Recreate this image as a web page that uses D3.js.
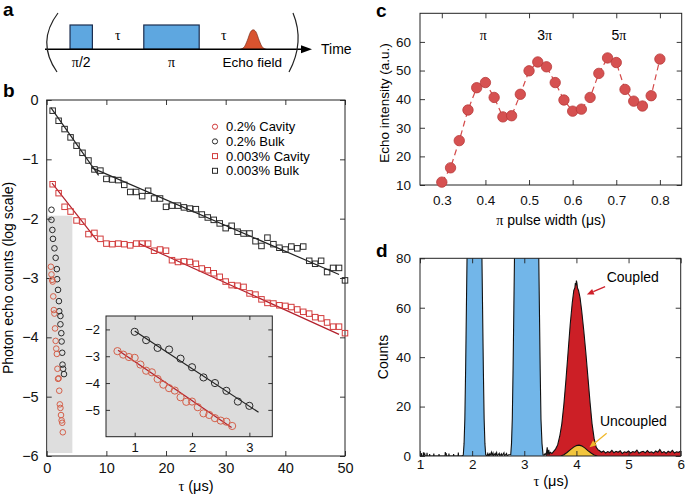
<!DOCTYPE html>
<html>
<head>
<meta charset="utf-8">
<script src="https://cdn.jsdelivr.net/npm/d3@7"></script>
<style>
  body { margin: 0; background: #fff; }
  svg { display: block; font-family: "Liberation Sans", Arial, Helvetica, sans-serif; }
</style>
</head>
<body>
<svg id="fig" width="685" height="498"></svg>
<script>
// ---------- panel a: pulse sequence (schematic time units) ----------
var seqPulses = [{ label: "π/2", t0: 0.375, t1: 0.71 }, { label: "π", t0: 1.48, t1: 2.31 }];
var seqDelays = [1.09, 2.68];
var echoCentre = 3.12;
var echoShape = [[-0.2, 0], [-0.14, 0.08], [-0.09, 0.36], [-0.04, 0.72], [0, 0.8], [0.04, 0.72], [0.09, 0.36], [0.14, 0.08], [0.2, 0]];

// ---------- panel b: echo decay, log scale ----------
var tau003 = [1,2,3,4,5,6,7,8,9,10,11,12,13,14,15,16,17,18,19,20,21,22,23,24,25,
              26,27,28,29,30,31,32,33,34,35,36,37,38,39,40,41,42,43,44,45,46,47,48,49,50];
var bulk003 = [-0.18,-0.35,-0.49,-0.63,-0.77,-0.89,-1.02,-1.17,-1.19,-1.33,-1.34,-1.35,-1.43,-1.55,-1.55,
               -1.62,-1.53,-1.66,-1.66,-1.80,-1.78,-1.78,-1.81,-1.83,-1.84,-1.93,-1.98,-2.02,-2.08,-2.16,
               -2.12,-2.22,-2.25,-2.25,-2.38,-2.46,-2.32,-2.43,-2.49,-2.52,-2.47,-2.50,-2.47,-2.71,-2.76,
               -2.71,-2.90,-2.83,-2.83,-3.04];
var cavity003 = [-1.42,-1.57,-1.80,-1.88,-2.03,-2.05,-2.26,-2.24,-2.34,-2.42,-2.43,-2.42,-2.43,-2.45,-2.42,
                 -2.42,-2.42,-2.54,-2.52,-2.54,-2.70,-2.73,-2.72,-2.73,-2.76,-2.84,-2.87,-2.92,-2.98,-3.06,
                 -3.12,-3.13,-3.15,-3.26,-3.28,-3.36,-3.42,-3.43,-3.46,-3.47,-3.49,-3.53,-3.57,-3.60,-3.66,
                 -3.68,-3.75,-3.82,-3.82,-3.93];
var bulk003Fits = [[[0.7, -0.13], [8.7, -1.27]], [[7.5, -1.14], [49, -2.94]]];
var cavity003Fits = [[[0.9, -1.40], [8.4, -2.36]], [[15.5, -2.42], [49, -3.95]]];

var tauCav02 = [0.7,0.8,0.9,1.0,1.1,1.2,1.3,1.4,1.5,1.6,1.7,1.8,1.9,2.0,2.1,2.2,2.3,2.4,2.5,2.6,2.7];
var cavity02 = [-2.81,-2.94,-3.03,-3.06,-3.31,-3.54,-3.60,-3.85,-4.06,-4.19,-4.28,-4.53,-4.70,-4.69,
                -4.90,-5.13,-5.19,-5.31,-5.40,-5.44,-5.60];
var tauBulk02 = [1.0,1.2,1.4,1.6,1.8,2.0,2.2,2.4,2.6,2.8,3.0];
var bulk02 = [-2.09,-2.40,-2.69,-2.75,-3.09,-3.41,-3.79,-4.00,-4.29,-4.69,-4.85];
var tauBulk02Strip = [0.8,0.8,0.95,1.05,1.3,1.5,1.7,1.75,1.9,2.05,2.1,2.3,2.3,2.45,2.5,2.6,2.65,2.75,2.9];
var bulk02Strip = [-1.85,-2.02,-2.19,-2.34,-2.50,-2.66,-2.85,-3.02,-3.20,-3.39,-3.56,-3.64,-3.78,-3.93,
                   -4.07,-4.26,-4.46,-4.53,-4.62];
var cavity02Fit = [[0.71, -2.78], [2.69, -5.66]];
var bulk02Fit = [[1.0, -2.06], [3.16, -5.09]];
var stripBox = [0.15, 4.3, -1.95, -5.95];
var legendLabels = ["0.2% Cavity", "0.2% Bulk", "0.003% Cavity", "0.003% Bulk"];

// ---------- panel c: echo vs pi pulse width ----------
var pulseWidth = [0.30,0.32,0.34,0.36,0.38,0.40,0.42,0.44,0.46,0.48,0.50,0.52,0.54,
                  0.56,0.58,0.60,0.62,0.64,0.66,0.68,0.70,0.72,0.74,0.76,0.78,0.80];
var echoIntensity = [11,16,25.5,36.2,44,45.8,40.6,33.8,34.2,41.7,49.9,53,51.3,
                     45.8,39.7,35.8,36.5,40.6,49,54.4,52.8,43.4,39.3,37.6,41.2,54];
var piMarks = [{ n: "", x: 0.395 }, { n: "3", x: 0.536 }, { n: "5", x: 0.706 }];

// ---------- panel d: photon counts trace ----------
var countsTrace = [
  [1.00,0],[1.02,0],[1.025,1.2],[1.03,0],[1.06,0],[1.065,1.5],[1.07,0.2],[1.09,1.0],[1.10,0],[1.13,0],
  [1.135,1.3],[1.14,0],[1.18,0],[1.185,0.8],[1.19,0],[1.26,0],[1.265,1.0],[1.27,0],[1.36,0],[1.365,0.8],
  [1.37,0],[1.48,0],[1.485,1.6],[1.49,0.3],[1.50,1.2],[1.51,0],[1.55,0],[1.555,1.0],[1.56,0],[1.64,0],
  [1.645,0.8],[1.65,0],[1.73,0],[1.735,1.4],[1.74,0],[1.80,0],[1.83,0.3],
  [1.845,5],[1.86,15],[1.875,35],[1.89,60],[1.905,85],[1.92,110],[2.17,110],[2.185,85],[2.20,60],
  [2.215,35],[2.23,15],[2.245,5],[2.26,0.5],
  [2.28,0],[2.30,1.0],[2.31,0],[2.33,0.8],[2.34,0],[2.37,1.5],[2.38,0.2],[2.40,1.2],[2.41,0],[2.44,1.0],
  [2.45,0.3],[2.47,1.4],[2.48,0],[2.52,1.1],[2.53,0],[2.56,0.9],[2.57,0],[2.61,1.3],[2.62,0],[2.66,1.0],
  [2.67,0],[2.70,0.5],[2.74,0.5],
  [2.755,5],[2.77,15],[2.785,35],[2.80,60],[2.815,85],[2.83,110],[3.26,110],[3.275,85],[3.29,60],
  [3.305,35],[3.32,15],[3.34,5],[3.36,0.5],
  [3.38,0.3],[3.40,1.0],[3.42,0.3],[3.44,3.5],[3.45,0.5],[3.47,2.5],[3.48,0.8],[3.50,1.5],[3.53,1.0],
  [3.56,1.8],[3.60,2.8],[3.64,4.5],[3.68,8],[3.72,13],[3.76,21],[3.80,31],[3.84,42],[3.88,53],[3.92,62],
  [3.95,67],[3.97,68],[3.98,70],[3.99,69],[4.00,71],[4.01,70],[4.02,68],[4.04,67],[4.07,64],[4.10,59],
  [4.14,51],[4.18,42],[4.22,32],[4.26,22],[4.30,13],[4.34,7],[4.38,3.5],[4.42,2.4],
  [4.44,2.2],[4.48,1.5],[4.52,2.0],[4.56,1.2],[4.60,1.8],[4.64,1.4],[4.68,2.3],[4.72,1.3],[4.76,1.9],
  [4.80,1.5],[4.84,2.1],[4.88,1.0],[4.92,1.7],[4.96,1.4],[5.00,2.0],[5.04,1.2],[5.08,1.8],[5.12,1.5],
  [5.16,2.4],[5.20,1.1],[5.24,1.6],[5.28,1.9],[5.32,1.3],[5.36,2.2],[5.40,1.4],[5.44,1.7],[5.48,1.2],
  [5.52,2.0],[5.56,1.5],[5.60,2.6],[5.64,1.3],[5.68,1.8],[5.72,1.1],[5.76,1.9],[5.80,1.4],[5.84,2.3],
  [5.88,1.2],[5.92,1.7],[5.96,1.5],[6.00,2.0]
];
var uncoupledTrace = [[3.70,0],[3.76,0.5],[3.82,1.4],[3.88,2.5],[3.94,3.5],[4.00,4.2],[4.05,4.4],
                      [4.10,4.1],[4.16,3.3],[4.22,2.2],[4.28,1.2],[4.34,0.4],[4.40,0]];
var pulseWindows = [[1.83, 2.26], [2.74, 3.36]];
var echoStart = 3.42;

var serif = "'Liberation Serif','DejaVu Serif',serif";
var svg = d3.select("#fig");
svg.append("rect").attr("width", 685).attr("height", 498).attr("fill", "#fff");

function panelLabel(txt, x, y) {
  svg.append("text").attr("x", x).attr("y", y).attr("font-size", 19)
    .attr("font-weight", "bold").text(txt);
}

// box with inward ticks on all four sides
function frame(g, x, y, xt, yt, o) {
  var xr = x.range(), yr = y.range();
  var parts = [
    [d3.axisBottom(x).tickValues(xt).tickPadding(o.padX).tickFormat(o.fx), [0, yr[0]]],
    [d3.axisTop(x).tickValues(xt).tickFormat(""), [0, yr[1]]],
    [d3.axisLeft(y).tickValues(yt).tickPadding(o.padY).tickFormat(o.fy), [xr[0], 0]],
    [d3.axisRight(y).tickValues(yt).tickFormat(""), [xr[1], 0]]
  ];
  parts.forEach(function (p) {
    var a = g.append("g").attr("transform", "translate(" + p[1] + ")")
      .call(p[0].tickSize(-o.tick).tickSizeOuter(0));
    a.attr("font-family", null).attr("font-size", o.font);
    a.select(".domain").remove();
    a.selectAll(".tick line").attr("stroke", "#222").attr("stroke-width", 0.9);
    a.selectAll(".tick text").attr("fill", "#111");
  });
  g.append("rect").attr("x", xr[0]).attr("y", yr[1])
    .attr("width", xr[1] - xr[0]).attr("height", yr[0] - yr[1])
    .attr("fill", "none").attr("stroke", "#222").attr("stroke-width", 1);
}

function tauLabel(g, x, y, size) {
  var t = g.append("text").attr("x", x).attr("y", y).attr("text-anchor", "middle").attr("font-size", size);
  t.append("tspan").attr("font-family", serif).text("τ");
  t.append("tspan").text(" (μs)");
}

// ================= panel a =================
var ga = svg.append("g");
var xa = d3.scaleLinear().domain([0, 4]).range([45, 312]);
var ya = d3.scaleLinear().domain([0, 1]).range([49.3, 25]);

ga.selectAll("rect.pulse").data(seqPulses).enter().append("rect")
  .attr("x", function (d) { return xa(d.t0); })
  .attr("y", ya(1))
  .attr("width", function (d) { return xa(d.t1) - xa(d.t0); })
  .attr("height", ya(0) - ya(1))
  .attr("fill", "#5ea7e0").attr("stroke", "#1b2d4f").attr("stroke-width", 1.2);

ga.append("path").datum(echoShape)
  .attr("d", d3.line().x(function (d) { return xa(echoCentre + d[0]); })
    .y(function (d) { return ya(d[1]); }).curve(d3.curveMonotoneX))
  .attr("fill", "#d8532f").attr("stroke", "#6a2412").attr("stroke-width", 0.6);

ga.append("line").attr("x1", xa(0)).attr("x2", xa(3.88)).attr("y1", ya(0)).attr("y2", ya(0))
  .attr("stroke", "#000").attr("stroke-width", 1.6);
ga.append("path").attr("d", "M" + xa(4) + "," + ya(0) + "l-11,-4v8z").attr("fill", "#000");
ga.append("text").attr("x", 321).attr("y", 54).attr("font-size", 14).text("Time");

ga.append("path").attr("d", "M58,13Q36,42 57,72").attr("fill", "none").attr("stroke", "#222").attr("stroke-width", 1.2);
ga.append("path").attr("d", "M293,13Q305,42 289,72").attr("fill", "none").attr("stroke", "#222").attr("stroke-width", 1.2);

ga.selectAll("text.plab").data(seqPulses).enter().append("text")
  .attr("x", function (d) { return xa((d.t0 + d.t1) / 2); }).attr("y", 67)
  .attr("text-anchor", "middle").attr("font-size", 14)
  .each(function (d) {
    var t = d3.select(this);
    t.append("tspan").attr("font-family", serif).text("π");
    if (d.label.length > 1) t.append("tspan").text(d.label.slice(1));
  });
ga.selectAll("text.tau").data(seqDelays).enter().append("text")
  .attr("x", function (d) { return xa(d); }).attr("y", 40)
  .attr("text-anchor", "middle").attr("font-size", 14).attr("font-family", serif).text("τ");
ga.append("text").attr("x", xa(echoCentre) - 1).attr("y", 67).attr("text-anchor", "middle")
  .attr("font-size", 13.5).text("Echo field");

// ================= panel b =================
var gb = svg.append("g");
var xb = d3.scaleLinear().domain([0, 50]).range([46.7, 345]);
var yb = d3.scaleLinear().domain([-6, 0]).range([456, 100]);

gb.append("rect").attr("x", xb(stripBox[0])).attr("y", yb(stripBox[2]))
  .attr("width", xb(stripBox[1]) - xb(stripBox[0])).attr("height", yb(stripBox[3]) - yb(stripBox[2]))
  .attr("fill", "#dedede");

frame(gb, xb, yb, [0, 10, 20, 30, 40, 50], [-6, -5, -4, -3, -2, -1, 0],
  { tick: 5, padX: 7, padY: 8, font: 14.5, fx: d3.format("d"), fy: d3.format("d") });

var lineB = d3.line().x(function (d) { return xb(d[0]); }).y(function (d) { return yb(d[1]); });
bulk003Fits.forEach(function (f) {
  gb.append("path").attr("d", lineB(f)).attr("stroke", "#222").attr("stroke-width", 1.2).attr("fill", "none");
});
cavity003Fits.forEach(function (f) {
  gb.append("path").attr("d", lineB(f)).attr("stroke", "#b3202c").attr("stroke-width", 1.2).attr("fill", "none");
});

function squares(g, xs, ys, x, y, colour, size) {
  g.selectAll(null).data(xs).enter().append("rect")
    .attr("x", function (d) { return x(d) - size / 2; })
    .attr("y", function (d, i) { return y(ys[i]) - size / 2; })
    .attr("width", size).attr("height", size)
    .attr("fill", "none").attr("stroke", colour).attr("stroke-width", 1);
}
function rings(g, xs, ys, x, y, colour, r) {
  g.selectAll(null).data(xs).enter().append("circle")
    .attr("cx", function (d) { return x(d); })
    .attr("cy", function (d, i) { return y(ys[i]); })
    .attr("r", r).attr("fill", "none").attr("stroke", colour).attr("stroke-width", 1);
}

squares(gb, tau003, bulk003, xb, yb, "#2a2a2a", 5.5);
squares(gb, tau003, cavity003, xb, yb, "#d23c3c", 5.5);
rings(gb, tauBulk02Strip, bulk02Strip, xb, yb, "#2a2a2a", 2.8);
rings(gb, tauCav02, cavity02, xb, yb, "#d4604a", 2.8);

// legend
var leg = gb.append("g");
legendLabels.forEach(function (lab, i) {
  var cy = 126.7 + i * 14.7;
  var col = (i % 2 === 0) ? "#d23c3c" : "#2a2a2a";
  if (i < 2) {
    leg.append("circle").attr("cx", 215).attr("cy", cy).attr("r", 2.6)
      .attr("fill", "none").attr("stroke", col).attr("stroke-width", 1);
  } else {
    leg.append("rect").attr("x", 212.5).attr("y", cy - 2.5).attr("width", 5).attr("height", 5)
      .attr("fill", "none").attr("stroke", col).attr("stroke-width", 1);
  }
  leg.append("text").attr("x", 226).attr("y", cy + 4.5).attr("font-size", 13).text(lab);
});

// inset
var gi = gb.append("g");
var xi = d3.scaleLinear().domain([0.5, 3.4]).range([106, 272.3]);
var yi = d3.scaleLinear().domain([-6, -1.5]).range([436.7, 316]);
gi.append("rect").attr("x", xi(0.5)).attr("y", yi(-1.5))
  .attr("width", xi(3.4) - xi(0.5)).attr("height", yi(-6) - yi(-1.5)).attr("fill", "#dcdcdc");
frame(gi, xi, yi, [1, 2, 3], [-5, -4, -3, -2],
  { tick: 4, padX: 6, padY: 6, font: 13, fx: d3.format("d"), fy: d3.format("d") });
var lineI = d3.line().x(function (d) { return xi(d[0]); }).y(function (d) { return yi(d[1]); });
gi.append("path").attr("d", lineI(bulk02Fit)).attr("stroke", "#222").attr("stroke-width", 1.2).attr("fill", "none");
gi.append("path").attr("d", lineI(cavity02Fit)).attr("stroke", "#b3202c").attr("stroke-width", 1.2).attr("fill", "none");
rings(gi, tauBulk02, bulk02, xi, yi, "#2a2a2a", 3.6);
rings(gi, tauCav02, cavity02, xi, yi, "#d4604a", 3.6);

tauLabel(gb, 196, 491, 14.5);
gb.append("text").attr("transform", "rotate(-90)").attr("x", -278).attr("y", 13)
  .attr("text-anchor", "middle").attr("font-size", 14).text("Photon echo counts (log scale)");

// ================= panel c =================
var gc = svg.append("g");
var xc = d3.scaleLinear().domain([0.25, 0.85]).range([420, 681.7]);
var yc = d3.scaleLinear().domain([10, 70]).range([185, 13.3]);
frame(gc, xc, yc, [0.3, 0.4, 0.5, 0.6, 0.7, 0.8], [10, 20, 30, 40, 50, 60],
  { tick: 5, padX: 10, padY: 9, font: 13.5, fx: d3.format(".1f"), fy: d3.format("d") });

gc.append("path").datum(pulseWidth)
  .attr("d", d3.line().x(function (d) { return xc(d); }).y(function (d, i) { return yc(echoIntensity[i]); }))
  .attr("fill", "none").attr("stroke", "#d44a4a").attr("stroke-width", 1.2).attr("stroke-dasharray", "6,4");
gc.selectAll(null).data(pulseWidth).enter().append("circle")
  .attr("cx", function (d) { return xc(d); })
  .attr("cy", function (d, i) { return yc(echoIntensity[i]); })
  .attr("r", 5.2).attr("fill", "#d65151").attr("stroke", "#b83a3a").attr("stroke-width", 0.8);

gc.selectAll("text.pim").data(piMarks).enter().append("text")
  .attr("x", function (d) { return xc(d.x); }).attr("y", yc(60.6))
  .attr("text-anchor", "middle").attr("font-size", 14)
  .each(function (d) {
    var t = d3.select(this);
    if (d.n) t.append("tspan").text(d.n);
    t.append("tspan").attr("font-family", serif).text("π");
  });

var xlc = gc.append("text").attr("x", 551).attr("y", 225).attr("text-anchor", "middle").attr("font-size", 14);
xlc.append("tspan").attr("font-family", serif).text("π");
xlc.append("tspan").text(" pulse width (μs)");
gc.append("text").attr("transform", "rotate(-90)").attr("x", -103).attr("y", 389)
  .attr("text-anchor", "middle").attr("font-size", 13.5).text("Echo intensity (a.u.)");

// ================= panel d =================
var gd = svg.append("g");
var xd = d3.scaleLinear().domain([1, 6]).range([420, 680.7]);
var yd = d3.scaleLinear().domain([0, 80]).range([456, 258.3]);

svg.append("clipPath").attr("id", "clipD").append("rect")
  .attr("x", xd(1)).attr("y", yd(80)).attr("width", xd(6) - xd(1)).attr("height", yd(0) - yd(80));

var plotD = gd.append("g").attr("clip-path", "url(#clipD)");
var areaD = d3.area().x(function (d) { return xd(d[0]); }).y0(yd(0)).y1(function (d) { return yd(d[1]); });
var lineD = d3.line().x(function (d) { return xd(d[0]); }).y(function (d) { return yd(d[1]); });

pulseWindows.forEach(function (w) {
  var seg = countsTrace.filter(function (d) { return d[0] >= w[0] && d[0] <= w[1]; });
  plotD.append("path").attr("d", areaD(seg)).attr("fill", "#72b6e9");
});
plotD.append("path").attr("d", areaD(countsTrace.filter(function (d) { return d[0] >= echoStart; })))
  .attr("fill", "#cc1f26");
plotD.append("path").attr("d", lineD(countsTrace)).attr("fill", "none")
  .attr("stroke", "#111").attr("stroke-width", 1.1);
plotD.append("path").attr("d", areaD(uncoupledTrace)).attr("fill", "#f2c53d");
plotD.append("path").attr("d", lineD(uncoupledTrace)).attr("fill", "none")
  .attr("stroke", "#111").attr("stroke-width", 1.1);

frame(gd, xd, yd, [1, 2, 3, 4, 5, 6], [0, 20, 40, 60, 80],
  { tick: 5, padX: 3, padY: 9, font: 13.5, fx: d3.format("d"), fy: d3.format("d") });

function arrow(g, from, to, colour) {
  var x1 = xd(from[0]), y1 = yd(from[1]), x2 = xd(to[0]), y2 = yd(to[1]);
  var ang = Math.atan2(y2 - y1, x2 - x1), L = 7, W = 3;
  var bx = x2 - L * Math.cos(ang), by = y2 - L * Math.sin(ang);
  g.append("line").attr("x1", x1).attr("y1", y1).attr("x2", bx).attr("y2", by)
    .attr("stroke", colour).attr("stroke-width", 1.3);
  g.append("path").attr("d", "M" + x2 + "," + y2 +
      "L" + (bx - W * Math.sin(ang)) + "," + (by + W * Math.cos(ang)) +
      "L" + (bx + W * Math.sin(ang)) + "," + (by - W * Math.cos(ang)) + "Z")
    .attr("fill", colour);
}
arrow(gd, [4.55, 68.5], [4.2, 65.4], "#d0202a");
arrow(gd, [4.58, 9.2], [4.25, 3.5], "#f0b82a");
gd.append("text").attr("x", xd(4.58)).attr("y", yd(70.5)).attr("font-size", 14).text("Coupled");
gd.append("text").attr("x", xd(4.45)).attr("y", yd(12.3)).attr("font-size", 14).text("Uncoupled");

tauLabel(gd, 551, 486, 14.5);
gd.append("text").attr("transform", "rotate(-90)").attr("x", -357).attr("y", 388)
  .attr("text-anchor", "middle").attr("font-size", 14).text("Counts");

panelLabel("a", 3, 16);
panelLabel("b", 3, 97);
panelLabel("c", 376, 17);
panelLabel("d", 376, 257);
</script>
</body>
</html>
